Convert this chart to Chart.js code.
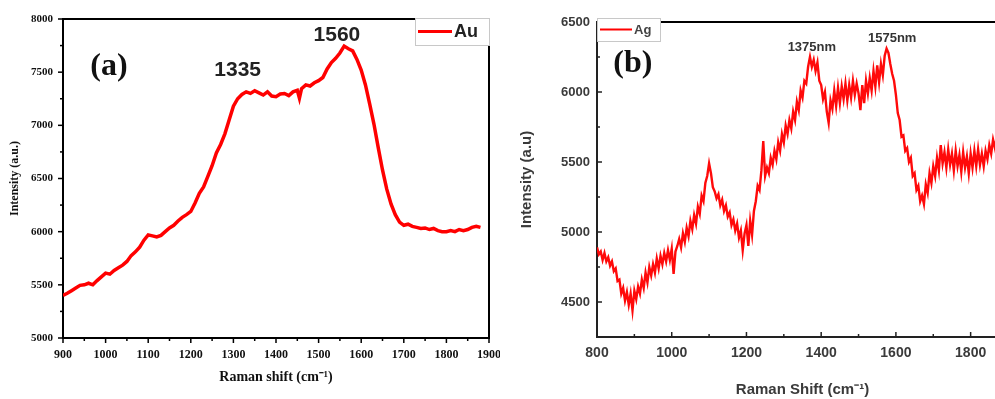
<!DOCTYPE html>
<html>
<head>
<meta charset="utf-8">
<script src="https://cdn.jsdelivr.net/npm/chart.js@4.4.1/dist/chart.umd.min.js"></script>
<style>
  html, body { margin: 0; padding: 0; background: #fff; overflow: hidden; width: 995px; height: 399px; }
  #chartA { position: absolute; left: 0; top: 0; }
  #chartB { position: absolute; left: 500px; top: 0; }
</style>
</head>
<body>
<canvas id="chartA" width="500" height="399"></canvas>
<canvas id="chartB" width="520" height="399"></canvas>
<script>
// panel (a) - Au
const auShift = [900, 910, 920, 930, 940, 950, 960, 970, 980, 990, 1000, 1010, 1020, 1030, 1040, 1050,
  1060, 1070, 1080, 1090, 1100, 1110, 1120, 1130, 1140, 1150, 1160, 1170, 1180, 1190, 1200, 1210,
  1220, 1230, 1240, 1250, 1260, 1270, 1280, 1290, 1300, 1310, 1320, 1330, 1340, 1350, 1360, 1370,
  1380, 1390, 1400, 1410, 1420, 1430, 1440, 1450, 1455, 1460, 1470, 1480, 1490, 1500, 1510, 1520,
  1530, 1540, 1550, 1560, 1570, 1580, 1590, 1600, 1610, 1620, 1630, 1640, 1650, 1660, 1670, 1680,
  1690, 1700, 1710, 1720, 1730, 1740, 1750, 1760, 1770, 1780, 1790, 1800, 1810, 1820, 1830, 1840,
  1850, 1860, 1870, 1880];
const auIntensity = [5400, 5420, 5445, 5470, 5495, 5500, 5515, 5500, 5540, 5575, 5610, 5600, 5635, 5660, 5685, 5720,
  5775, 5810, 5855, 5920, 5970, 5960, 5950, 5965, 6000, 6035, 6060, 6100, 6135, 6160, 6190, 6270,
  6360, 6420, 6520, 6620, 6740, 6820, 6920, 7050, 7180, 7250, 7290, 7315, 7300, 7325, 7305, 7285,
  7315, 7275, 7270, 7295, 7300, 7280, 7315, 7330, 7255, 7345, 7380, 7370, 7400, 7420, 7450, 7530,
  7590, 7630, 7680, 7745, 7720, 7700, 7620, 7520, 7380, 7200, 7010, 6790, 6580, 6400, 6260, 6160,
  6090, 6060, 6070, 6050, 6040, 6030, 6035, 6020, 6030, 6010, 6000, 6000, 6010, 6000, 6020, 6010,
  6020, 6040, 6050, 6040];

// panel (b) - Ag
const agShift = [
  800, 805, 810, 815, 820, 825, 830, 835, 840, 845, 850, 855, 860, 865, 870, 875, 880, 885, 890, 895,
  900, 905, 910, 915, 920, 925, 930, 935, 940, 945, 950, 955, 960, 965, 970, 975, 980, 985, 990, 995,
  1000, 1005, 1010, 1015, 1020, 1025, 1030, 1035, 1040, 1045, 1050, 1055, 1060, 1065, 1070, 1075, 1080, 1085, 1090, 1095,
  1100, 1105, 1110, 1115, 1120, 1125, 1130, 1135, 1140, 1145, 1150, 1155, 1160, 1165, 1170, 1175, 1180, 1185, 1190, 1195,
  1200, 1205, 1210, 1215, 1220, 1225, 1230, 1235, 1240, 1245, 1250, 1255, 1260, 1265, 1270, 1275, 1280, 1285, 1290, 1295,
  1300, 1305, 1310, 1315, 1320, 1325, 1330, 1335, 1340, 1345, 1350, 1355, 1360, 1365, 1370, 1375, 1380, 1385, 1390, 1395,
  1400, 1405, 1410, 1415, 1420, 1425, 1430, 1435, 1440, 1445, 1450, 1455, 1460, 1465, 1470, 1475, 1480, 1485, 1490, 1495,
  1500, 1505, 1510, 1515, 1520, 1525, 1530, 1535, 1540, 1545, 1550, 1555, 1560, 1565, 1570, 1575, 1580, 1585, 1590, 1595,
  1600, 1605, 1610, 1615, 1620, 1625, 1630, 1635, 1640, 1645, 1650, 1655, 1660, 1665, 1670, 1675, 1680, 1685, 1690, 1695,
  1700, 1705, 1710, 1715, 1720, 1725, 1730, 1735, 1740, 1745, 1750, 1755, 1760, 1765, 1770, 1775, 1780, 1785, 1790, 1795,
  1800, 1805, 1810, 1815, 1820, 1825, 1830, 1835, 1840, 1845, 1850, 1855, 1860, 1865, 1870];
const agIntensity = [
  4890, 4840, 4860, 4800, 4850, 4790, 4820, 4760, 4790, 4720, 4740, 4650, 4660, 4560, 4600, 4510, 4570, 4480, 4560, 4440,
  4580, 4520, 4610, 4560, 4660, 4600, 4710, 4640, 4750, 4690, 4770, 4710, 4810, 4740, 4830, 4770, 4850, 4790, 4870, 4800,
  4880, 4700, 4860, 4900, 4950, 4890, 4990, 4930, 5030, 4970, 5080, 5020, 5120, 5060, 5180, 5130, 5260, 5220, 5350, 5400,
  5490, 5420, 5320, 5290, 5240, 5270, 5190, 5230, 5150, 5190, 5110, 5140, 5050, 5090, 5010, 5060, 4960, 5010, 4870, 4990,
  5050, 4900, 5080, 4980, 5150, 5220, 5330, 5300, 5440, 5650, 5400, 5460, 5420, 5530, 5480, 5580, 5520, 5640, 5580, 5700,
  5640, 5760, 5700, 5800, 5740, 5860, 5800, 5930, 5870, 6010, 5960, 6080, 6060, 6180, 6250, 6180, 6230, 6150, 6210, 6080,
  6050, 5950, 6000, 5860, 5780, 5940, 5880, 6010, 5900, 6030, 5920, 6040, 5950, 6060, 5940, 6050, 5960, 6080, 5980, 6060,
  5990, 5870, 6050, 5920, 6080, 5990, 6100, 6010, 6150, 6040, 6190, 6070, 6200, 6120, 6260, 6310, 6280, 6200, 6130, 6080,
  5980, 5850, 5800, 5680, 5690, 5580, 5600, 5500, 5530, 5400, 5420, 5300, 5330, 5220, 5260, 5200, 5340, 5280, 5420, 5350,
  5470, 5400, 5530, 5440, 5620, 5490, 5570, 5460, 5590, 5480, 5560, 5440, 5580, 5470, 5550, 5430, 5570, 5460, 5540, 5420,
  5560, 5460, 5580, 5470, 5590, 5480, 5560, 5470, 5580, 5520, 5620, 5560, 5660, 5600, 5680];

const auPeaks = [{ text: '1335', x: 1310, y: 7520 }, { text: '1560', x: 1543, y: 7850 }];
const agPeaks = [{ text: '1375nm', x: 1375, y: 6321 }, { text: '1575nm', x: 1590, y: 6386 }];

function toPoints(xs, ys) {
  return xs.map((x, i) => ({ x: x, y: ys[i] }));
}

// frame, minor ticks, legend box and labels drawn over the plot
function framePlugin(cfg) {
  return {
    id: 'frame',
    afterDraw(chart) {
      const ctx = chart.ctx;
      const a = chart.chartArea;
      const x = chart.scales.x, y = chart.scales.y;
      ctx.save();
      ctx.strokeStyle = cfg.axisColor;
      ctx.lineWidth = 1.5;
      const dir = cfg.inward ? -1 : 1;
      x.ticks.forEach((t, i) => {
        const px = x.getPixelForTick(i);
        const len = t.label ? 5 : 3;
        ctx.beginPath(); ctx.moveTo(px, a.bottom); ctx.lineTo(px, a.bottom + dir * len); ctx.stroke();
      });
      y.ticks.forEach((t, i) => {
        const py = y.getPixelForTick(i);
        const len = t.label ? 5 : 3;
        ctx.beginPath(); ctx.moveTo(a.left, py); ctx.lineTo(a.left - dir * len, py); ctx.stroke();
      });

      // top / right border
      ctx.lineWidth = 2;
      ctx.strokeStyle = '#000';
      ctx.beginPath(); ctx.moveTo(cfg.topFrom, a.top); ctx.lineTo(cfg.topTo, a.top); ctx.stroke();
      if (cfg.rightBorder) {
        ctx.beginPath(); ctx.moveTo(a.right, cfg.rightBorder); ctx.lineTo(a.right, a.bottom); ctx.stroke();
      }

      // legend
      const lg = cfg.legend;
      ctx.fillStyle = '#fff';
      ctx.fillRect(lg.x, lg.y, lg.w, lg.h);
      ctx.lineWidth = 1;
      ctx.strokeStyle = '#c8c8c8';
      ctx.strokeRect(lg.x + 0.5, lg.y + 0.5, lg.w, lg.h);
      ctx.strokeStyle = '#ff0000';
      ctx.lineWidth = lg.lineWidth;
      ctx.beginPath(); ctx.moveTo(lg.x + 3, lg.y + lg.h / 2); ctx.lineTo(lg.lineEnd, lg.y + lg.h / 2); ctx.stroke();
      ctx.fillStyle = lg.color;
      ctx.font = lg.font;
      ctx.textAlign = 'left';
      ctx.textBaseline = 'middle';
      ctx.fillText(lg.text, lg.lineEnd + 2, lg.y + lg.h / 2 + 1);

      // panel tag
      ctx.font = cfg.tag.font;
      ctx.fillStyle = '#111';
      ctx.textAlign = 'center';
      ctx.fillText(cfg.tag.text, x.getPixelForValue(cfg.tag.x), y.getPixelForValue(cfg.tag.y));

      // peak labels
      ctx.font = cfg.peakFont;
      ctx.fillStyle = cfg.peakColor;
      cfg.peaks.forEach(p => {
        ctx.fillText(p.text, x.getPixelForValue(p.x), y.getPixelForValue(p.y));
      });
      ctx.restore();
    }
  };
}

const serifTick = { family: 'Liberation Serif', size: 12, weight: 'bold' };

new Chart(document.getElementById('chartA'), {
  type: 'line',
  data: {
    datasets: [{
      label: 'Au',
      data: toPoints(auShift, auIntensity),
      borderColor: '#ff0000',
      borderWidth: 3.5,
      pointRadius: 0,
      tension: 0
    }]
  },
  options: {
    responsive: false,
    animation: false,
    layout: { padding: { left: 0, top: 19, right: 11, bottom: 0 } },
    plugins: { legend: { display: false }, tooltip: { enabled: false } },
    scales: {
      x: {
        type: 'linear', min: 900, max: 1900,
        grid: { display: false, drawTicks: false },
        border: { display: true, color: '#000', width: 2 },
        ticks: {
          stepSize: 50, autoSkip: false, maxRotation: 0, padding: 10, color: '#111', font: serifTick,
          callback: v => (v % 100 === 0 ? String(v) : '')
        },
        title: {
          display: true, text: 'Raman shift (cm⁻¹)', color: '#111',
          font: { family: 'Liberation Serif', size: 14, weight: 'bold' },
          padding: { top: 0, bottom: 13 }
        },
        afterFit(s) { s.height = 61; s.paddingLeft = 0; s.paddingRight = 0; }
      },
      y: {
        min: 5000, max: 8000,
        grid: { display: false, drawTicks: false },
        border: { display: true, color: '#000', width: 2 },
        ticks: {
          stepSize: 250, autoSkip: false, padding: 10, color: '#111', font: { family: 'Liberation Serif', size: 11, weight: 'bold' },
          callback: v => (v % 500 === 0 ? String(v) : '')
        },
        title: {
          display: true, text: 'Intensity (a.u.)', color: '#111',
          font: { family: 'Liberation Serif', size: 12, weight: 'bold' },
          padding: { top: 8, bottom: 0 }
        },
        afterFit(s) { s.width = 63; s.paddingTop = 0; s.paddingBottom = 0; }
      }
    }
  },
  plugins: [framePlugin({
    axisColor: '#000', inward: false,
    topFrom: 63, topTo: 415, rightBorder: 45,
    legend: { x: 415, y: 18, w: 74, h: 27, lineEnd: 452, lineWidth: 3, text: 'Au', color: '#222', font: 'bold 18px "Liberation Sans"' },
    tag: { text: '(a)', x: 1008, y: 7549, font: 'bold 32px "Liberation Serif"' },
    peaks: auPeaks, peakFont: 'bold 21px "Liberation Sans"', peakColor: '#222'
  })]
});

new Chart(document.getElementById('chartB'), {
  type: 'line',
  data: {
    datasets: [{
      label: 'Ag',
      data: toPoints(agShift, agIntensity),
      borderColor: '#ff0a0a',
      borderWidth: 2.4,
      pointRadius: 0,
      tension: 0
    }]
  },
  options: {
    responsive: false,
    animation: false,
    layout: { padding: { left: 0, top: 22, right: 12, bottom: 0 } },
    plugins: { legend: { display: false }, tooltip: { enabled: false } },
    scales: {
      x: {
        type: 'linear', min: 800, max: 1900,
        grid: { display: false, drawTicks: false },
        border: { display: true, color: '#222', width: 2 },
        ticks: {
          stepSize: 100, autoSkip: false, maxRotation: 0, padding: 8, color: '#3a3a3a',
          font: { family: 'Liberation Sans', size: 14, weight: 'bold' },
          callback: v => (v % 200 === 0 ? String(v) : '')
        },
        title: {
          display: true, text: 'Raman Shift (cm⁻¹)', color: '#3a3a3a',
          font: { family: 'Liberation Sans', size: 15, weight: 'bold' },
          padding: { top: 0, bottom: 0 }
        },
        afterFit(s) { s.height = 62; s.paddingLeft = 0; s.paddingRight = 0; }
      },
      y: {
        min: 4250, max: 6500,
        grid: { display: false, drawTicks: false },
        border: { display: true, color: '#222', width: 2 },
        ticks: {
          stepSize: 250, autoSkip: false, padding: 7, color: '#3a3a3a',
          font: { family: 'Liberation Sans', size: 13, weight: 'bold' },
          callback: v => (v % 500 === 0 ? String(v) : '')
        },
        title: {
          display: true, text: 'Intensity (a.u)', color: '#3a3a3a',
          font: { family: 'Liberation Sans', size: 15, weight: 'bold' },
          padding: { top: 18, bottom: 0 }
        },
        afterFit(s) { s.width = 97; s.paddingTop = 0; s.paddingBottom = 0; }
      }
    }
  },
  plugins: [framePlugin({
    axisColor: '#222', inward: true,
    topFrom: 160, topTo: 520, rightBorder: 0,
    legend: { x: 97, y: 18, w: 63, h: 23, lineEnd: 132, lineWidth: 2, text: 'Ag', color: '#444', font: 'bold 13px "Liberation Sans"' },
    tag: { text: '(b)', x: 896, y: 6200, font: 'bold 32px "Liberation Serif"' },
    peaks: agPeaks, peakFont: 'bold 13px "Liberation Sans"', peakColor: '#333'
  })]
});
</script>
</body>
</html>
